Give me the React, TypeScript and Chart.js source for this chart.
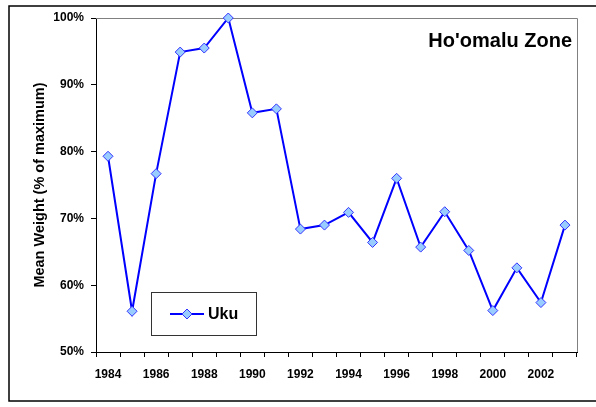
import React, { useEffect, useRef } from "react";
import { Chart, registerables } from "chart.js";

Chart.register(...registerables);

const years: string[] = [
  "1984", "1985", "1986", "1987", "1988", "1989", "1990", "1991", "1992", "1993",
  "1994", "1995", "1996", "1997", "1998", "1999", "2000", "2001", "2002", "2003",
];
const ukuValues: number[] = [
  79.3, 56.1, 76.7, 94.9, 95.5, 100, 85.8, 86.4, 68.4, 69.0,
  70.9, 66.4, 76.0, 65.7, 71.0, 65.2, 56.2, 62.6, 57.4, 69.0,
];
const seriesLabel = "Uku";
const chartTitle = "Ho'omalu Zone";
const yAxisTitle = "Mean Weight (% of maximum)";
const yTicks: number[] = [50, 60, 70, 80, 90, 100];

const FONT = "Arial, 'Liberation Sans', sans-serif";
const LINE_COLOR = "#0000ff";
const MARKER_FILL = "#99ccff";

const decorPlugin = {
  id: "decor",
  beforeDatasetsDraw(chart: any) {
    const { ctx, chartArea } = chart;
    ctx.save();
    ctx.strokeStyle = "#808080";
    ctx.lineWidth = 1;
    ctx.beginPath();
    ctx.moveTo(chartArea.left, chartArea.top + 0.5);
    ctx.lineTo(chartArea.right + 0.5, chartArea.top + 0.5);
    ctx.lineTo(chartArea.right + 0.5, chartArea.bottom);
    ctx.stroke();
    ctx.restore();
  },
  afterDraw(chart: any) {
    const { ctx } = chart;
    ctx.save();
    // outer frame
    ctx.strokeStyle = "#000";
    ctx.lineWidth = 1.5;
    ctx.strokeRect(9, 6, 620, 395);
    // title
    ctx.fillStyle = "#000";
    ctx.font = `bold 20px ${FONT}`;
    ctx.textAlign = "right";
    ctx.textBaseline = "alphabetic";
    ctx.fillText(chartTitle, 572, 47);
    // legend
    ctx.fillStyle = "#fff";
    ctx.fillRect(151, 292, 106, 44);
    ctx.strokeStyle = "#333";
    ctx.lineWidth = 1;
    ctx.strokeRect(151.5, 292.5, 105, 43);
    ctx.strokeStyle = LINE_COLOR;
    ctx.lineWidth = 2;
    ctx.beginPath();
    ctx.moveTo(170, 314);
    ctx.lineTo(204, 314);
    ctx.stroke();
    ctx.beginPath();
    ctx.moveTo(187, 309);
    ctx.lineTo(192, 314);
    ctx.lineTo(187, 319);
    ctx.lineTo(182, 314);
    ctx.closePath();
    ctx.fillStyle = MARKER_FILL;
    ctx.fill();
    ctx.lineWidth = 1;
    ctx.strokeStyle = "#3333ff";
    ctx.stroke();
    ctx.fillStyle = "#000";
    ctx.font = `bold 16px ${FONT}`;
    ctx.textAlign = "left";
    ctx.fillText(chart.data.datasets[0].label, 208, 319);
    ctx.restore();
  },
};

export default function App() {
  const canvasRef = useRef<HTMLCanvasElement | null>(null);

  useEffect(() => {
    if (!canvasRef.current) return;
    const chart = new Chart(canvasRef.current, {
      type: "line",
      data: {
        labels: years,
        datasets: [
          {
            label: seriesLabel,
            data: ukuValues,
            borderColor: LINE_COLOR,
            borderWidth: 2,
            backgroundColor: MARKER_FILL,
            pointStyle: "rectRot",
            pointRadius: 5,
            pointBorderWidth: 1,
            pointBorderColor: "#3333ff",
            pointBackgroundColor: MARKER_FILL,
            tension: 0,
            fill: false,
            clip: false,
          },
        ],
      },
      options: {
        responsive: false,
        animation: false,
        layout: { padding: { top: 18, right: 19, left: 0, bottom: 0 } },
        plugins: {
          legend: { display: false },
          title: { display: false },
          tooltip: { enabled: false },
        },
        scales: {
          x: {
            type: "category",
            offset: true,
            grid: {
              display: true,
              offset: true,
              drawOnChartArea: false,
              drawTicks: true,
              tickLength: 5,
              color: "#000",
            },
            border: { display: true, color: "#000", width: 1 },
            ticks: {
              autoSkip: false,
              maxRotation: 0,
              padding: 10,
              color: "#000",
              font: { family: FONT, size: 12, weight: "bold" },
              callback: (_v: any, i: number) => (i % 2 === 0 ? years[i] : ""),
            },
            afterFit: (scale: any) => {
              scale.height = 55;
            },
          },
          y: {
            min: 50,
            max: 100,
            afterBuildTicks: (scale: any) => {
              scale.ticks = yTicks.map((v) => ({ value: v }));
            },
            grid: {
              display: true,
              drawOnChartArea: false,
              drawTicks: true,
              tickLength: 5,
              color: "#000",
            },
            border: { display: true, color: "#000", width: 1 },
            ticks: {
              padding: 7,
              color: "#000",
              font: { family: FONT, size: 12, weight: "bold" },
              callback: (v: any) => `${v}%`,
            },
            title: {
              display: true,
              text: yAxisTitle,
              color: "#000",
              font: { family: FONT, size: 14.5, weight: "bold" },
              padding: { top: 31, bottom: 0 },
            },
            afterFit: (scale: any) => {
              scale.width = 96;
            },
          },
        },
      },
      plugins: [decorPlugin],
    });
    return () => chart.destroy();
  }, []);

  return (
    <div style={{ position: "absolute", left: 0, top: 0, width: 596, height: 407, background: "#fff" }}>
      <canvas ref={canvasRef} width={596} height={407} />
    </div>
  );
}
